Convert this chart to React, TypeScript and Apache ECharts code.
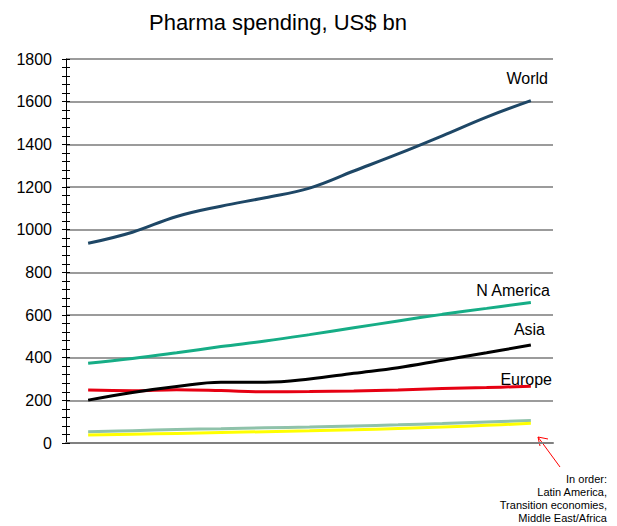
import React, { useEffect, useRef } from "react";
import * as echarts from "echarts";

const years = ["2006", "2007", "2008", "2009", "2010", "2011", "2012", "2013", "2014", "2015", "2016"];
const world = [936, 988, 1062, 1110, 1150, 1195, 1275, 1355, 1440, 1528, 1605];
const nAmerica = [374, 396, 423, 452, 478, 508, 540, 572, 603, 631, 659];
const asia = [201, 237, 265, 285, 285, 300, 327, 353, 388, 423, 459];
const europe = [248, 245, 250, 246, 240, 241, 244, 249, 255, 260, 266];
const latinAmerica = [53, 58, 63, 67, 71, 75, 80, 85, 91, 98, 105];
const transition = [37, 41, 45, 49, 53, 57, 62, 68, 75, 83, 92];
const yTicks = [0, 200, 400, 600, 800, 1000, 1200, 1400, 1600, 1800];

const FONT = "'Liberation Sans', Arial, sans-serif";

export default function App() {
  const ref = useRef<HTMLDivElement>(null);
  useEffect(() => {
    document.body.style.margin = "0";
    const chart = echarts.init(ref.current!, null, { renderer: "svg" });
    const yMin = yTicks[0];
    const yMax = yTicks[yTicks.length - 1];
    const interval = yTicks[1] - yTicks[0];
    const mk = (name: string, data: number[], color: string, z = 2) => ({
      name,
      type: "line",
      data,
      smooth: 0.4,
      symbol: "none",
      z,
      lineStyle: { color, width: 3 },
    });
    chart.setOption({
      animation: false,
      backgroundColor: "#ffffff",
      grid: { left: 66, right: 64, top: 59, bottom: 83, containLabel: false },
      xAxis: {
        type: "category",
        data: years,
        boundaryGap: true,
        axisLine: { show: true, lineStyle: { color: "#808080", width: 2 } },
        axisTick: { show: false },
        axisLabel: { show: false },
        splitLine: { show: false },
      },
      yAxis: [
        {
          type: "value",
          min: yMin,
          max: yMax,
          interval,
          axisLine: { show: true, lineStyle: { color: "#000", width: 1 } },
          axisTick: { show: true, length: 4, lineStyle: { color: "#000" } },
          minorTick: { show: true, splitNumber: 5, length: 4, lineStyle: { color: "#000" } },
          axisLabel: {
            fontFamily: FONT,
            fontSize: 16,
            color: "#000",
            margin: 14,
            formatter: (v: number) => String(v),
          },
          splitLine: { show: true, lineStyle: { color: "#7a7a7a", width: 1.5 } },
        },
        {
          type: "value",
          position: "left",
          min: yMin,
          max: yMax,
          interval,
          axisLine: { show: false },
          axisTick: { show: true, inside: true, length: 4, lineStyle: { color: "#000" } },
          minorTick: { show: true, splitNumber: 5, length: 4, lineStyle: { color: "#000" } },
          axisLabel: { show: false },
          splitLine: { show: false },
        },
      ],
      series: [
        mk("World", world, "#1e4766"),
        mk("N America", nAmerica, "#16ad86"),
        mk("Asia", asia, "#000000", 4),
        mk("Europe", europe, "#e60012", 3),
        mk("Latin America", latinAmerica, "#8fc2aa"),
        mk("Transition economies", transition, "#ffff00"),
      ],
      graphic: [
        {
          type: "text",
          x: 278,
          y: 22,
          style: { text: "Pharma spending, US$ bn", font: `22px ${FONT}`, fill: "#000", align: "center", verticalAlign: "middle" },
        },
        { type: "text", x: 548, y: 78, style: { text: "World", font: `16px ${FONT}`, fill: "#000", align: "right", verticalAlign: "middle" } },
        { type: "text", x: 550, y: 290, style: { text: "N America", font: `16px ${FONT}`, fill: "#000", align: "right", verticalAlign: "middle" } },
        { type: "text", x: 545, y: 329, style: { text: "Asia", font: `16px ${FONT}`, fill: "#000", align: "right", verticalAlign: "middle" } },
        { type: "text", x: 552, y: 379, z: 10, style: { text: "Europe", font: `16px ${FONT}`, fill: "#000", align: "right", verticalAlign: "middle" } },
        {
          type: "text",
          x: 607,
          y: 472,
          style: {
            text: "In order:\nLatin America,\nTransition economies,\nMiddle East/Africa",
            font: `11px ${FONT}`,
            lineHeight: 13,
            fill: "#000",
            align: "right",
            verticalAlign: "top",
          },
        },
        { type: "line", shape: { x1: 560, y1: 467, x2: 538, y2: 437 }, style: { stroke: "#ff0000", lineWidth: 1 } },
        { type: "polyline", shape: { points: [[548, 439], [538, 437], [540, 446]] }, style: { stroke: "#ff0000", lineWidth: 1, fill: null } },
      ],
    });
    return () => chart.dispose();
  }, []);
  return <div ref={ref} style={{ width: 617, height: 526 }} />;
}
